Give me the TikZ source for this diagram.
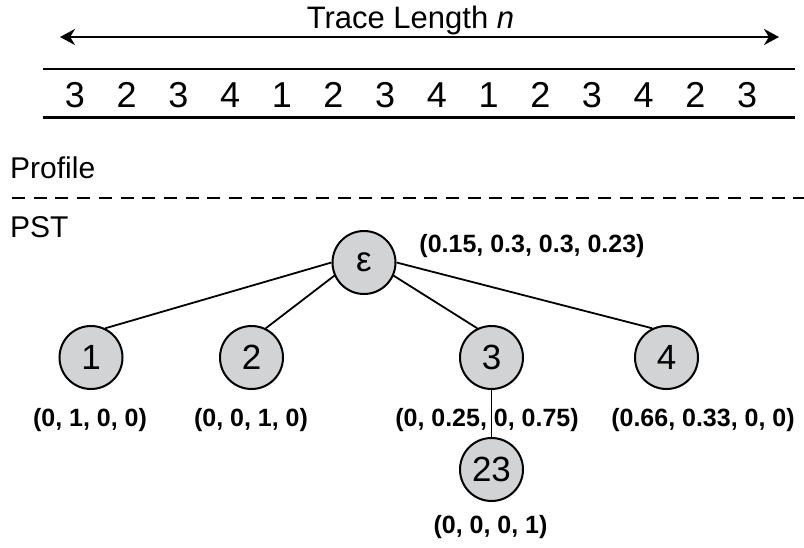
\documentclass[tikz,border=0pt]{standalone}
\usepackage{fontspec}
\setmainfont{Liberation Sans}
\usetikzlibrary{arrows.meta}
\definecolor{nodegray}{RGB}{209,211,212}
\begin{document}
\begin{tikzpicture}[x=1pt,y=-1pt,
  pnode/.style={circle, draw=black, line width=2pt, fill=nodegray, minimum size=63pt, inner sep=0pt, font=\fontsize{35}{35}\selectfont},
  prob/.style={font=\bfseries\fontsize{25}{25}\selectfont, inner sep=0pt, anchor=base},
  seq/.style={font=\fontsize{36}{36}\selectfont, inner sep=0pt, anchor=base},
  side/.style={font=\fontsize{30}{30}\selectfont, inner sep=0pt, anchor=base west},
  edge/.style={line width=1.8pt},
  rule/.style={line width=2.5pt}]
\useasboundingbox (0,0) rectangle (804,548);
% trace length arrow
\node[font=\fontsize{31}{31}\selectfont, inner sep=0pt, anchor=base] (title) at (410.5,29) {Trace Length \textit{n}};
\coordinate (al) at (60,37);
\coordinate (ar) at (779,37);
\draw[line width=2pt, {Stealth[length=15pt,width=16pt]}-{Stealth[length=15pt,width=16pt]}] (al) -- (ar);
% sequence rules
\coordinate (t1) at (43,69);
\coordinate (t2) at (795,69);
\coordinate (b1) at (43,117.5);
\coordinate (b2) at (795,117.5);
\draw[rule] (t1) -- (t2);
\draw[rule] (b1) -- (b2);
\foreach \d [count=\i from 0] in {3,2,3,4,1,2,3,4,1,2,3,4,2,3}
  \node[seq] (d\i) at ({75+51.7*\i},107.5) {\d};
% profile / PST
\node[side] (profile) at (10,179) {Profile};
\coordinate (dl) at (12,198);
\coordinate (dr) at (804,198);
\draw[line width=2pt, dash pattern=on 13pt off 8.7pt] (dl) -- (dr);
\node[side] (pst) at (10,238) {PST};
% tree
\node[pnode] (eps) at (364,262.5) {ε};
\node[pnode] (n1) at (91,357.5) {1};
\node[pnode] (n2) at (251.5,357.5) {2};
\node[pnode] (n3) at (491.5,357.5) {3};
\node[pnode] (n4) at (666.5,357.5) {4};
\node[pnode] (n23) at (491.5,469.5) {23};
\draw[edge] (eps.180) -- (n1.64);
\draw[edge] (eps.204) -- (n2.64);
\draw[edge] (eps.336) -- (n3.116);
\draw[edge] (eps.0) -- (n4.116);
\draw[edge] (n3.south) -- (n23.north);
% probability labels
\node[prob] (leps) at (532,253) {(0.15, 0.3, 0.3, 0.23)};
\node[prob] (l1) at (90,426) {(0, 1, 0, 0)};
\node[prob] (l2) at (251,426) {(0, 0, 1, 0)};
\node[prob] (l3) at (487,426) {(0, 0.25, 0, 0.75)};
\node[prob] (l4) at (703,426) {(0.66, 0.33, 0, 0)};
\node[prob] (l23) at (490.5,533) {(0, 0, 0, 1)};
\end{tikzpicture}
\end{document}
